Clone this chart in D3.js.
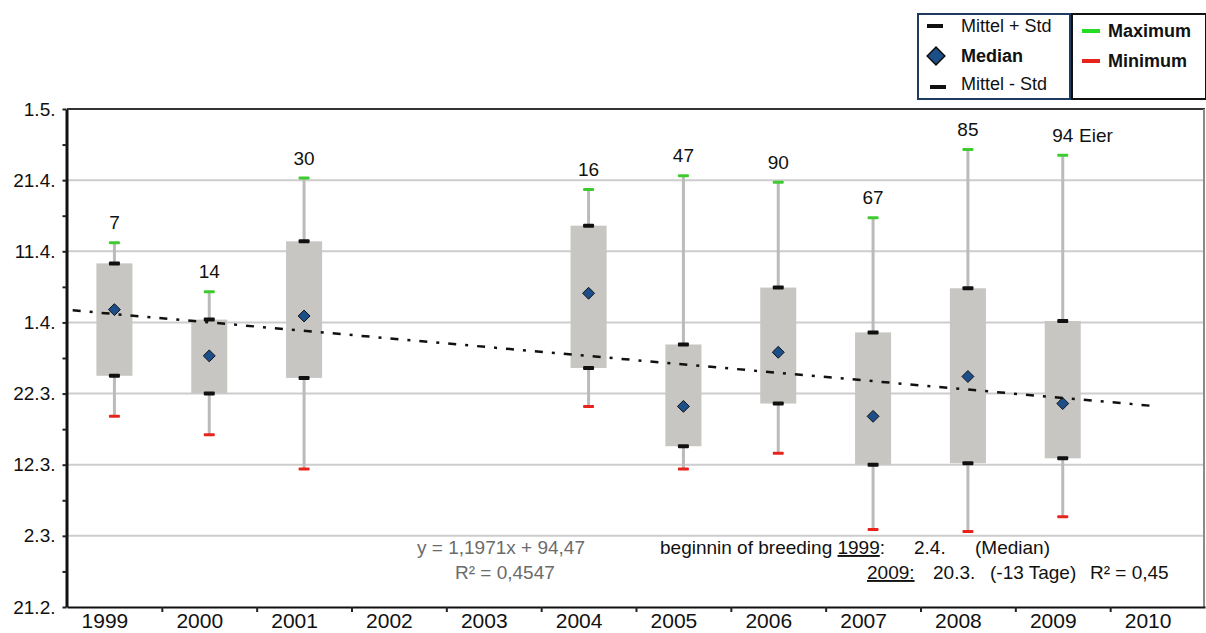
<!DOCTYPE html>
<html>
<head>
<meta charset="utf-8">
<script src="https://cdn.jsdelivr.net/npm/d3@7"></script>
<style>
  body { margin: 0; background: #fff; }
  svg { display: block; font-family: Arial, "Liberation Sans", sans-serif; }
</style>
</head>
<body>
<svg width="1206" height="633"></svg>
<script>
  // values are days after 21.2. (the bottom of the axis), one gridline = 10 days
  var yearLabels = [1999, 2000, 2001, 2002, 2003, 2004, 2005, 2006, 2007, 2008, 2009, 2010];
  var yTicks = [0, 10, 20, 30, 40, 50, 60, 70];
  var yTickLabels = ["21.2.", "2.3.", "12.3.", "22.3.", "1.4.", "11.4.", "21.4.", "1.5."];

  var boxYears     = [1999, 2000, 2001, 2004, 2005, 2006, 2007, 2008, 2009];
  var maxima       = [51.2, 44.3, 60.3, 58.7, 60.6, 59.7, 54.7, 64.3, 63.5];
  var meanPlusStd  = [48.3, 40.4, 51.4, 53.6, 36.9, 44.9, 38.6, 44.8, 40.2];
  var medians      = [41.8, 35.3, 40.9, 44.1, 28.2, 35.8, 26.8, 32.4, 28.6];
  var meanMinusStd = [32.5, 30.0, 32.2, 33.6, 22.6, 28.6, 20.0, 20.2, 20.9];
  var minima       = [26.8, 24.2, 19.4, 28.2, 19.4, 21.6, 10.9, 10.6, 12.7];
  var eggCounts    = [7, 14, 30, 16, 47, 90, 67, 85, 94];

  // linear trend (start and end of the drawn line)
  var trendYears  = [1998.56, 2009.92];
  var trendValues = [41.7, 28.3];

  var svg = d3.select("svg"),
      plotLeft = 67, plotRight = 1205, plotTop = 109, plotBottom = 607;

  var x = d3.scaleLinear().domain([1998.5, 2010.5]).range([plotLeft, plotRight]);
  var y = d3.scaleLinear().domain([0, 70]).range([plotBottom, plotTop]);
  var boxW = (x(1) - x(0)) * 0.38;

  var data = boxYears.map(function(yr, i) {
    return { year: yr, max: maxima[i], hi: meanPlusStd[i], med: medians[i],
             lo: meanMinusStd[i], min: minima[i], n: eggCounts[i] };
  });

  // gridlines
  svg.append("g")
    .selectAll("line")
    .data(yTicks.filter(function(d) { return d > 0 && d < 70; }))
    .enter().append("line")
      .attr("x1", plotLeft).attr("x2", plotRight)
      .attr("y1", function(d) { return y(d); })
      .attr("y2", function(d) { return y(d); })
      .attr("stroke", "#cdcdcd")
      .attr("stroke-width", 2);

  // top and right frame
  svg.append("line")
    .attr("x1", plotLeft).attr("x2", plotRight).attr("y1", y(70)).attr("y2", y(70))
    .attr("stroke", "#333").attr("stroke-width", 2);
  svg.append("line")
    .attr("x1", plotRight - 1).attr("x2", plotRight - 1).attr("y1", y(70)).attr("y2", plotBottom)
    .attr("stroke", "#8a8a8a").attr("stroke-width", 2);

  // whiskers
  var boxes = svg.append("g");
  boxes.selectAll("line.whisker")
    .data(data)
    .enter().append("line")
      .attr("class", "whisker")
      .attr("x1", function(d) { return x(d.year); })
      .attr("x2", function(d) { return x(d.year); })
      .attr("y1", function(d) { return y(d.max); })
      .attr("y2", function(d) { return y(d.min); })
      .attr("stroke", "#bdbbb9")
      .attr("stroke-width", 3);

  // boxes from mean-std to mean+std
  boxes.selectAll("rect.box")
    .data(data)
    .enter().append("rect")
      .attr("class", "box")
      .attr("x", function(d) { return x(d.year) - boxW / 2; })
      .attr("width", boxW)
      .attr("y", function(d) { return y(d.hi); })
      .attr("height", function(d) { return y(d.lo) - y(d.hi); })
      .attr("fill", "#c8c6c3");

  function caps(key, color, w, h) {
    boxes.selectAll("rect.cap-" + key)
      .data(data)
      .enter().append("rect")
        .attr("class", "cap-" + key)
        .attr("x", function(d) { return x(d.year) - w / 2; })
        .attr("y", function(d) { return y(d[key]) - h / 2; })
        .attr("width", w)
        .attr("height", h)
        .attr("rx", 1)
        .attr("fill", color);
  }
  caps("max", "#3ecb2f", 11, 3);
  caps("min", "#e8231c", 11, 3);
  caps("hi", "#111", 11, 4);
  caps("lo", "#111", 11, 4);

  // trend line
  var trend = trendYears.map(function(t, i) { return [t, trendValues[i]]; });
  svg.append("path")
    .datum(trend)
    .attr("d", d3.line().x(function(d) { return x(d[0]); }).y(function(d) { return y(d[1]); }))
    .attr("fill", "none")
    .attr("stroke", "#111")
    .attr("stroke-width", 2.5)
    .attr("stroke-dasharray", "8,9,3,9");

  // medians
  boxes.selectAll("path.median")
    .data(data)
    .enter().append("path")
      .attr("class", "median")
      .attr("d", d3.symbol().type(d3.symbolDiamond2).size(90))
      .attr("transform", function(d) { return "translate(" + x(d.year) + "," + y(d.med) + ")"; })
      .attr("fill", "#1c4f8a")
      .attr("stroke", "#111")
      .attr("stroke-width", 1);

  // egg counts
  svg.append("g")
    .selectAll("text")
    .data(data)
    .enter().append("text")
      .attr("x", function(d) { return x(d.year); })
      .attr("y", function(d) { return y(d.max) - 20; })
      .attr("text-anchor", "middle")
      .attr("dominant-baseline", "central")
      .attr("font-size", "19px")
      .attr("fill", "#111")
      .text(function(d) { return d.n; });
  var last = data[data.length - 1];
  svg.append("text")
    .attr("x", x(last.year) + 11)
    .attr("y", y(last.max) - 20)
    .attr("dominant-baseline", "central")
    .attr("font-size", "19px")
    .attr("fill", "#111")
    .text("\u00a0Eier");

  // y axis
  var yAxis = svg.append("g")
    .attr("transform", "translate(" + (plotLeft - 0.5) + ",0)")
    .call(d3.axisLeft(y)
      .tickValues(d3.range(0, 71, 5))
      .tickSize(4)
      .tickSizeOuter(0)
      .tickPadding(7)
      .tickFormat(function(d) { var i = yTicks.indexOf(d); return i < 0 ? "" : yTickLabels[i]; }));
  yAxis.select(".domain").attr("stroke", "#111").attr("stroke-width", 3);
  yAxis.selectAll(".tick line").attr("stroke", "#222").attr("stroke-width", 2);
  yAxis.selectAll("text").attr("font-size", "19px").attr("fill", "#111")
    .attr("font-family", "Arial, 'Liberation Sans', sans-serif");

  // x axis: ticks between the years
  var xAxis = svg.append("g")
    .attr("transform", "translate(0," + plotBottom + ")")
    .call(d3.axisBottom(x)
      .tickValues(d3.range(1999.5, 2010, 1))
      .tickSize(5)
      .tickSizeOuter(0)
      .tickFormat(""));
  xAxis.select(".domain").attr("stroke", "#111").attr("stroke-width", 2);
  xAxis.selectAll(".tick line").attr("stroke", "#222").attr("stroke-width", 2);

  var xLabels = svg.append("g")
    .attr("transform", "translate(0," + plotBottom + ")")
    .call(d3.axisBottom(x)
      .tickValues(yearLabels)
      .tickSize(0)
      .tickPadding(6)
      .tickFormat(d3.format("d")));
  xLabels.select(".domain").remove();
  xLabels.selectAll("text")
    .attr("dx", -10)
    .attr("font-size", "21px")
    .attr("fill", "#111")
    .attr("font-family", "Arial, 'Liberation Sans', sans-serif");

  // annotations
  var ann = svg.append("g").attr("font-size", "19px");
  ann.append("text").attr("x", 417).attr("y", 554).attr("fill", "#6b6b6b").text("y = 1,1971x + 94,47");
  ann.append("text").attr("x", 455).attr("y", 579).attr("fill", "#6b6b6b").text("R\u00b2 = 0,4547");

  var l1 = ann.append("text").attr("x", 660).attr("y", 554).attr("fill", "#111");
  l1.append("tspan").text("beginnin of breeding ");
  l1.append("tspan").attr("text-decoration", "underline").text("1999");
  l1.append("tspan").text(":");
  ann.append("text").attr("x", 914).attr("y", 554).attr("fill", "#111").text("2.4.");
  ann.append("text").attr("x", 975).attr("y", 554).attr("fill", "#111").text("(Median)");

  ann.append("text").attr("x", 867).attr("y", 579).attr("fill", "#111")
    .attr("text-decoration", "underline").text("2009:");
  ann.append("text").attr("x", 933).attr("y", 579).attr("fill", "#111").text("20.3.");
  ann.append("text").attr("x", 990).attr("y", 579).attr("fill", "#111").text("(-13 Tage)");
  ann.append("text").attr("x", 1090).attr("y", 579).attr("fill", "#111").text("R\u00b2 = 0,45");

  // legend
  var leg = svg.append("g").attr("font-size", "18px");
  leg.append("rect").attr("x", 918).attr("y", 14).attr("width", 152).attr("height", 85)
    .attr("fill", "#fff").attr("stroke", "#1f3a5f").attr("stroke-width", 2);
  leg.append("rect").attr("x", 1072).attr("y", 14).attr("width", 134).attr("height", 85)
    .attr("fill", "#fff").attr("stroke", "#111").attr("stroke-width", 2);

  leg.append("rect").attr("x", 927).attr("y", 24).attr("width", 16).attr("height", 4).attr("fill", "#111");
  leg.append("text").attr("x", 961).attr("y", 26).attr("dominant-baseline", "central").attr("fill", "#111").text("Mittel + Std");
  leg.append("path").attr("d", d3.symbol().type(d3.symbolDiamond2).size(200))
    .attr("transform", "translate(936,56)").attr("fill", "#1c4f8a").attr("stroke", "#111").attr("stroke-width", 1.5);
  leg.append("text").attr("x", 961).attr("y", 56).attr("dominant-baseline", "central").attr("font-weight", "bold").attr("fill", "#111").text("Median");
  leg.append("rect").attr("x", 930).attr("y", 85).attr("width", 16).attr("height", 4).attr("fill", "#111");
  leg.append("text").attr("x", 961).attr("y", 84).attr("dominant-baseline", "central").attr("fill", "#111").text("Mittel - Std");

  leg.append("rect").attr("x", 1082).attr("y", 29).attr("width", 18).attr("height", 4).attr("fill", "#22dd22");
  leg.append("text").attr("x", 1108).attr("y", 31).attr("dominant-baseline", "central").attr("font-weight", "bold").attr("fill", "#111").text("Maximum");
  leg.append("rect").attr("x", 1082).attr("y", 59).attr("width", 18).attr("height", 4).attr("fill", "#e8231c");
  leg.append("text").attr("x", 1108).attr("y", 61).attr("dominant-baseline", "central").attr("font-weight", "bold").attr("fill", "#111").text("Minimum");
</script>
</body>
</html>
